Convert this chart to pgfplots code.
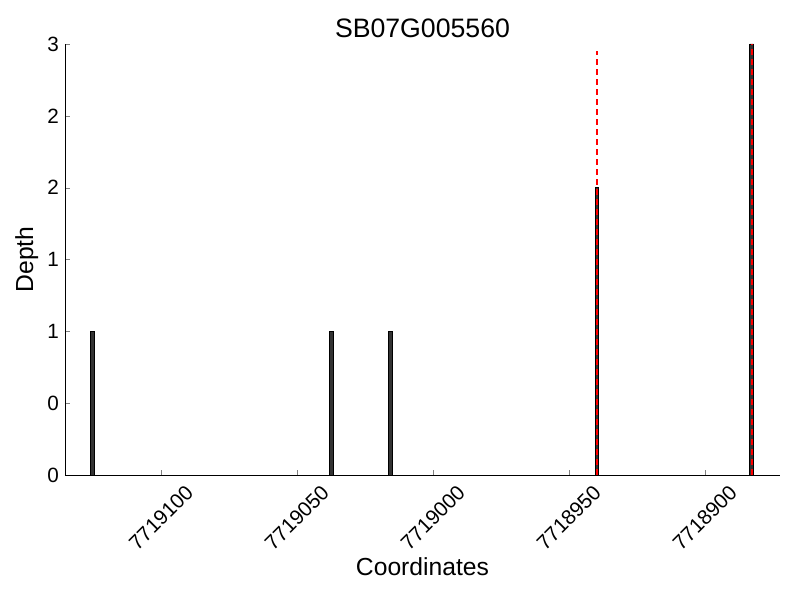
\documentclass[border=0pt]{standalone}
\usepackage{pgfplots}
\pgfplotsset{compat=1.18}
\usepackage{fontspec}
\setmainfont{Liberation Sans}
% x values below are coordinates minus 7718800
\begin{document}
\begin{tikzpicture}
\useasboundingbox (-48.75pt,-93pt) rectangle (551.25pt,356.25pt);
\begin{axis}[
  at={(0pt,0pt)}, anchor=south west,
  scale only axis,
  width=536.25pt, height=323.25pt,
  x dir=reverse,
  xmin=72.3, xmax=335.3,
  ymin=0, ymax=3,
  axis x line*=bottom, axis y line*=left,
  tick align=inside,
  major tick length=4pt,
  xtick={100,150,200,250,300},
  xticklabels={7718900,7718950,7719000,7719050,7719100},
  ytick={0,0.5,1,1.5,2,2.5,3},
  yticklabels={0,0,1,1,2,2,3},
  tick label style={font=\fontsize{15.5}{18}\selectfont},
  xticklabel style={anchor=center, yshift=-32pt, rotate=45},
  yticklabel style={xshift=-1pt},
  title={SB07G005560},
  title style={font=\fontsize{20}{24}\selectfont, yshift=-5pt},
  xlabel={Coordinates}, ylabel={Depth},
  label style={font=\fontsize{18.5}{22}\selectfont},
  xlabel style={yshift=3.5pt},
  ylabel style={yshift=0pt},
  clip=false,
]
\addplot[ybar, bar width=2.8pt, fill=black!80, draw=black, line width=0.6pt] coordinates {
  (325.3,1) (237.4,1) (215.6,1) (139.6,2) (82.7,3)
};
\addplot[red, line width=1.6pt, dash pattern=on 4.5pt off 3pt] coordinates {(139.6,0) (139.6,2.95)};
\addplot[red, line width=1.6pt, dash pattern=on 4.5pt off 3pt] coordinates {(82.7,0) (82.7,3)};
\end{axis}
\end{tikzpicture}
\end{document}
